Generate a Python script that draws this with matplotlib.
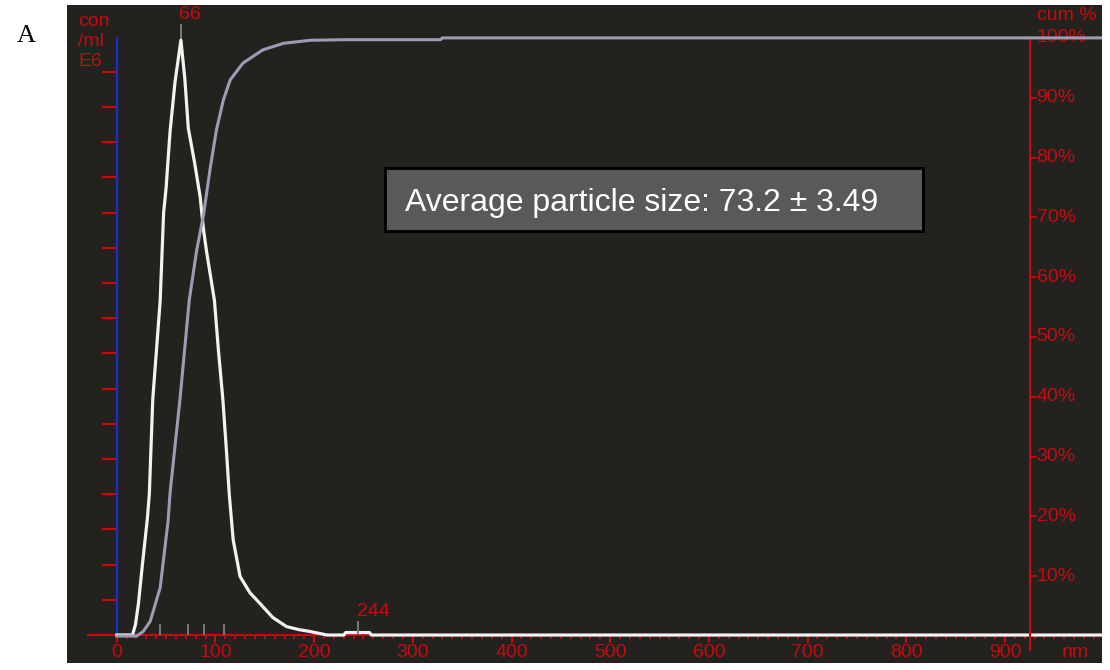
import matplotlib
matplotlib.use("Agg")
import matplotlib.pyplot as plt
from matplotlib.patches import Rectangle

plt.rcParams['font.family'] = ['Liberation Sans', 'DejaVu Sans']

# ---- data ----
size_nm = [0, 16, 19, 22, 26, 31, 33, 36.5, 40, 44, 47.5, 50, 54, 59, 65, 69, 72.5, 79,
           84.5, 88, 91, 99, 103, 107.5, 111, 114, 118, 125, 135, 145, 158, 172, 185, 196,
           213, 230, 232, 256, 258, 1000]
conc_e6 = [0, 0, 0.3, 0.9, 2.0, 3.3, 4.0, 6.7, 8.0, 9.5, 12.0, 12.7, 14.3, 15.7, 16.9, 15.8,
           14.4, 13.4, 12.45, 11.5, 10.9, 9.5, 8.1, 6.7, 5.3, 4.0, 2.7, 1.66, 1.2, 0.9, 0.5,
           0.24, 0.15, 0.1, 0, 0, 0.07, 0.07, 0, 0]

cum_nm = [0, 20, 27, 34, 44, 52, 54, 64, 73.5, 81, 88, 94.5, 101, 108, 115, 128, 148, 169,
          196, 230, 328, 330, 1000]
cum_pct = [0, 0, 0.8, 2.5, 8.1, 19.2, 23.9, 39.5, 56.2, 64.5, 70.5, 78, 84.6, 89.6, 93, 95.8,
           98, 99.1, 99.6, 99.7, 99.7, 100, 100]

peak_nm, peak_label = 65, "66"
small_peak_nm, small_peak_label = 244, "244"
d_markers = [44, 72.5, 88.5, 109]
x_major = list(range(0, 1000, 100))
cum_ticks = [10, 20, 30, 40, 50, 60, 70, 80, 90, 100]
avg_text = "Average particle size: 73.2 \u00b1 3.49"

BG = "#23221e"
RED = "#c80a10"
GREY = "#9c9cb4"
WHITE = "#f2f2f2"
FS = 14

W, H = 1110, 670
fig = plt.figure(figsize=(W / 100, H / 100), dpi=100)
fig.patch.set_facecolor("white")

# panel = axes (pixel box 67..1102 x 5..663)
ax = fig.add_axes([67 / W, 7 / H, 1035 / W, 658 / H])
ax.set_facecolor(BG)
ax.set_xlim(-50.4, 998.3)
ax.set_ylim(-0.795, 17.9)
ax.axis("off")
ax.add_patch(Rectangle((0, 0), 1, 1, transform=ax.transAxes, facecolor=BG, zorder=-5))

ax2 = ax.twinx()
ax2.set_ylim(-4.5, 105.5)
ax2.axis("off")

# left axis (blue) with red ticks
ax.plot([0, 0], [0, 16.96], color="#1c2ad0", lw=1.6, zorder=3)
for k in range(1, 17):
    ax.plot([-14, -1.5], [k, k], color=RED, lw=1.5, zorder=3)

# bottom axis
ax.plot([-29, 998], [0, 0], color=RED, lw=1.5, zorder=2)
ax.vlines([v for v in range(10, 1000, 10) if v % 100], -0.12, 0, color=RED, lw=1.3)
ax.vlines(x_major, -0.24, 0, color=RED, lw=1.5)
for v in x_major:
    ax.text(v, -0.5, str(v), color=RED, fontsize=FS, ha="center", va="center")
ax.text(971, -0.5, "nm", color=RED, fontsize=FS, ha="center", va="center")

# right axis (cum %)
ax2.plot([925, 925], [-2.3, 100], color=RED, lw=1.5, zorder=2)
for p in cum_ticks:
    ax2.plot([925, 931], [p, p], color=RED, lw=1.3)
    ax2.text(932, p, f"{p}%", color=RED, fontsize=FS, ha="left", va="center")

# curves
ax2.plot(cum_nm, cum_pct, color=GREY, lw=2.2, zorder=4)
ax.plot(size_nm, conc_e6, color=WHITE, lw=2.3, zorder=5)

# small peak highlight
ax.fill_between([230, 258], 0, 0.06, color=RED, lw=0, zorder=4)

# markers
ax.vlines(d_markers, 0, 0.3, color="#7a7a7a", lw=1.4, zorder=3)
ax.plot([peak_nm, peak_nm], [16.9, 17.33], color="#8a8a8a", lw=1.2, zorder=4)
ax.text(peak_nm - 2, 17.62, peak_label, color=RED, fontsize=FS, ha="left", va="center")
ax.plot([small_peak_nm, small_peak_nm], [0.06, 0.37], color="#7a7a7a", lw=1.4, zorder=6)
ax.text(small_peak_nm - 1, 0.66, small_peak_label, color=RED, fontsize=FS,
        ha="left", va="center")

# axis captions
fig.text(78 / W, 1 - 21 / H, "con", color=RED, fontsize=FS, ha="left", va="center")
fig.text(78 / W, 1 - 41 / H, "/ml", color=RED, fontsize=FS, ha="left", va="center")
fig.text(78 / W, 1 - 61 / H, "E6", color=RED, fontsize=FS, ha="left", va="center")
fig.text(1037 / W, 1 - 16 / H, "cum %", color=RED, fontsize=FS, ha="left", va="center")

# average size box
fig.patches.append(Rectangle((385 / W, 1 - 231 / H), 538 / W, 63 / H,
                             transform=fig.transFigure, facecolor="#595959",
                             edgecolor="black", lw=2, zorder=10))
fig.text(405 / W, 1 - 203 / H, avg_text, color="white", fontsize=23,
         ha="left", va="center", zorder=11)

# panel label
fig.text(26 / W, 1 - 36 / H, "A", fontsize=19, family="Liberation Serif",
         ha="center", va="center")

fig.savefig("out.png", dpi=100, facecolor="white")
